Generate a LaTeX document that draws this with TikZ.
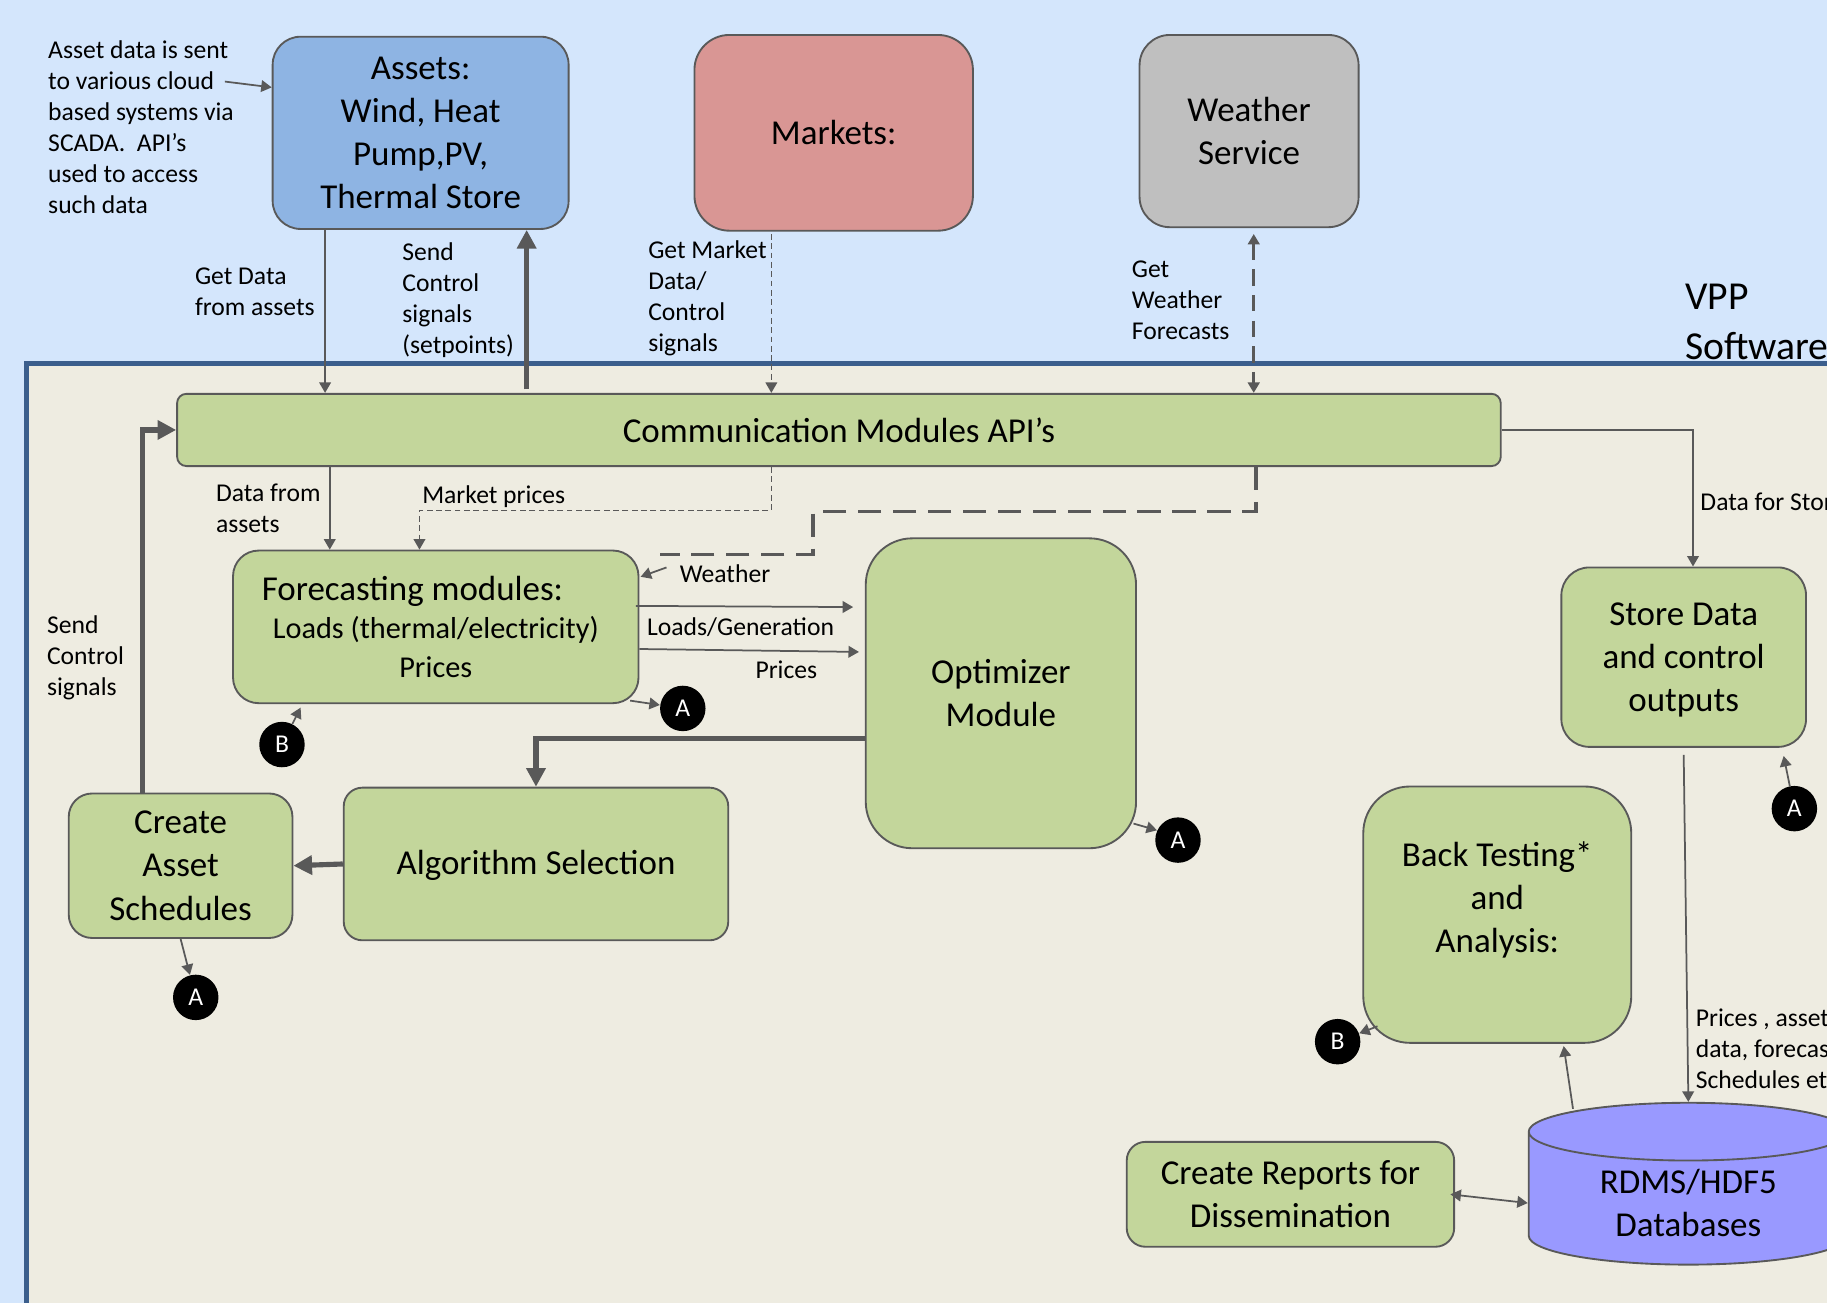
\documentclass[tikz,border=0pt]{standalone}
\usepackage{fontspec}
\setmainfont{Carlito}
\usepackage{xcolor}
\usetikzlibrary{shapes,arrows.meta,positioning}

\definecolor{skyback}{HTML}{D4E6FC}
\definecolor{vppback}{HTML}{EEECE1}
\definecolor{vppframe}{HTML}{3B5E8C}
\definecolor{linegray}{HTML}{595959}
\definecolor{assetblue}{HTML}{8EB4E3}
\definecolor{marketred}{HTML}{D99694}
\definecolor{weathergray}{HTML}{BFBFBF}
\definecolor{modgreen}{HTML}{C3D69B}
\definecolor{dbpurple}{HTML}{9999FF}

\begin{document}
\begin{tikzpicture}[
        x=0.5pt, y=-0.5pt,
        >={Triangle[length=4.5pt,width=5pt]},
        big/.style={font=\fontsize{15}{18.5}\selectfont},
        box/.style={rectangle, draw=linegray, line width=0.8pt, align=center, inner sep=2pt, big},
        assetbox/.style={box, fill=assetblue, rounded corners=12pt},
        marketbox/.style={box, fill=marketred, rounded corners=15pt},
        wxbox/.style={box, fill=weathergray, rounded corners=13pt},
        module/.style={box, fill=modgreen},
        db/.style={cylinder, shape border rotate=90, aspect=0.3, draw=linegray, line width=0.8pt, fill=dbpurple, align=center, big, minimum width=137pt, minimum height=66.5pt},
        marker/.style={circle, fill=black, text=white, inner sep=0pt, minimum size=19.5pt, font=\fontsize{11}{13}\selectfont},
        lbl/.style={align=left, anchor=west, inner sep=0pt, font=\fontsize{11}{13.3}\selectfont},
        arrow/.style={draw=linegray, line width=0.75pt, ->},
        thickarrow/.style={draw=linegray, line width=2.2pt, -{Triangle[length=8pt,width=8pt]}},
        dasharrow/.style={arrow, line width=0.7pt, dash pattern=on 2.5pt off 1.5pt},
        longdash/.style={draw=linegray, line width=1.6pt, dash pattern=on 10pt off 5pt}
    ]
        \useasboundingbox (0,0) rectangle (1568,1118);
        \clip (0,0) rectangle (1568,1118);
        \fill[skyback] (0,0) rectangle (1568,1118);
        \filldraw[fill=vppback, draw=vppframe, line width=2pt] (23,312) rectangle (1620,1160);

        % outside world
        \node[assetbox, minimum width=127pt, minimum height=82.5pt] (assets) at (361,114) {Assets:\\Wind, Heat\\Pump,PV,\\Thermal Store};
        \node[marketbox, minimum width=119.5pt, minimum height=84pt] (markets) at (715.5,114) {Markets:};
        \node[wxbox, minimum width=94pt, minimum height=82.5pt] (weather) at (1072,112.5) {Weather\\Service};
        \node[lbl, font=\fontsize{17}{21.5}\selectfont] (vpp) at (1446,276) {VPP\\Software};

        % VPP modules
        \node[module, rounded corners=4pt, minimum width=568pt, minimum height=31pt] (comm) at (720,369) {Communication Modules API’s};
        \node[module, rounded corners=11pt, minimum width=174pt, minimum height=65.5pt, font=\fontsize{13}{16.5}\selectfont] (forecast) at (374,538) {{\fontsize{15}{18}\selectfont Forecasting modules:\hspace*{20pt}}\\Loads (thermal/electricity)\\Prices};
        \node[module, rounded corners=20pt, minimum width=116pt, minimum height=133pt] (optimizer) at (859,595) {Optimizer\\Module};
        \node[module, rounded corners=10pt, minimum width=96pt, minimum height=62pt] (sched) at (155,743) {Create\\Asset\\Schedules};
        \node[module, rounded corners=8pt, minimum width=165pt, minimum height=65.5pt, text depth=1pt] (algo) at (460,741.5) {Algorithm Selection};
        \node[module, rounded corners=12pt, minimum width=105pt, minimum height=77pt, text depth=0pt] (store) at (1445,564) {Store Data\\and control\\outputs};
        \node[module, rounded corners=20pt, minimum width=115pt, minimum height=110pt, text depth=15pt] (back) at (1285,785) {Back Testing*\\and\\Analysis:};
        \node[module, rounded corners=8pt, minimum width=140.5pt, minimum height=45pt] (reports) at (1107.5,1025) {Create Reports for\\Dissemination};
        \node[db] (db) at (1449,1032.5) {RDMS/HDF5\\Databases};

        % page links
        \node[marker] (A1) at (586,608) {A};
        \node[marker] (B1) at (242,639) {B};
        \node[marker] (A2) at (168,856) {A};
        \node[marker] (A3) at (1011,721) {A};
        \node[marker] (A4) at (1540,694) {A};
        \node[marker] (B2) at (1148,894) {B};

        % labels
        \node[lbl] (assetnote) at (41,109) {Asset data is sent\\to various cloud\\based systems via\\SCADA.\ \ API’s\\used to access\\such data};
        \node[lbl] (getdata) at (167,250) {Get Data\\from assets};
        \node[lbl] (sendctl) at (345,258) {Send\\Control\\signals\\(setpoints)};
        \node[lbl] (getmkt) at (556,256) {Get Market\\Data/\\Control\\signals};
        \node[lbl] (getwx) at (971,258) {Get\\Weather\\Forecasts};
        \node[lbl] (datafrom) at (185,436.5) {Data from\\assets};
        \node[lbl] (mktprices) at (362,426) {Market prices};
        \node[lbl] (wxlbl) at (583,492) {Weather};
        \node[lbl] (loadsgen) at (555,538) {Loads/Generation};
        \node[lbl] (priceslbl) at (648,575) {Prices};
        \node[lbl] (sendsig) at (40,564.5) {Send\\Control\\signals};
        \node[lbl] (storelbl) at (1459,431) {Data for Stor};
        \node[lbl] (dblbl) at (1455,900.5) {Prices , asset\\data, forecas\\Schedules et};

        \coordinate (notetip) at (193,70);
        \coordinate (wxend) at (566,476);
        \coordinate (wxtip) at (572,487);

        % connections to the outside
        \draw[arrow] (notetip) -- ([yshift=19.5pt]assets.west);
        \draw[arrow] ([xshift=-41pt]assets.south) -- ([xshift=-220.5pt]comm.north);
        \draw[thickarrow] ([xshift=-134pt,yshift=1.5pt]comm.north) -- ([xshift=45.5pt]assets.south);
        \draw[dasharrow] ([xshift=-26.75pt,yshift=-1pt]markets.south) -- ([xshift=-29pt]comm.north);
        \draw[longdash, <->, line width=1.5pt, dash pattern=on 7pt off 4pt] ([xshift=2pt,yshift=-2.5pt]weather.south) -- ([xshift=178pt]comm.north);

        % connections inside
        \draw[arrow] (comm.east) -| ([xshift=4pt]store.north);
        \draw[arrow] ([xshift=-218.5pt]comm.south) -- ([xshift=-45.5pt]forecast.north);
        \draw[dasharrow] ([xshift=-29pt]comm.south) |- (360,438) -- ([xshift=-7pt]forecast.north);
        \draw[longdash] ([xshift=179pt]comm.south) |- (698,439) |- (wxend);
        \draw[arrow] (wxtip) -- ([xshift=0.5pt,yshift=21.5pt]forecast.east);
        \draw[arrow] ([xshift=-1.5pt,yshift=9pt]forecast.east) -- ([xshift=-5pt,yshift=37pt]optimizer.west);
        \draw[arrow] ([yshift=-9.5pt]forecast.east) -- ([xshift=-2.5pt,yshift=17.75pt]optimizer.west);
        \draw[arrow] ([xshift=-4pt,yshift=1.5pt]forecast.south east) -- (A1);
        \draw[arrow] (B1) -- ([xshift=-58pt,yshift=-1.5pt]forecast.south);
        \draw[thickarrow] ([yshift=-19.5pt]optimizer.west) -| (algo.north);
        \draw[thickarrow] (algo.west) -- (sched.east);
        \draw[thickarrow] ([xshift=-16.5pt]sched.north) |- (comm.west);
        \draw[arrow] (sched.south) -- (A2);
        \draw[arrow] ([xshift=-1.5pt,yshift=11pt]optimizer.south east) -- (A3.155);
        \draw[arrow] (A4) -- ([xshift=-10pt,yshift=-3.5pt]store.south east);
        \draw[arrow] ([yshift=-3pt]store.south) -- (db.top);
        \draw[arrow] ([xshift=-49.5pt,yshift=-3pt]db.top) -- ([xshift=28.5pt,yshift=-1pt]back.south);
        \draw[arrow] ([xshift=6.5pt,yshift=7.5pt]back.south west) -- (B2);
        \draw[arrow, <->] ([xshift=-2pt]reports.east) -- (db.west);
\end{tikzpicture}
\end{document}
